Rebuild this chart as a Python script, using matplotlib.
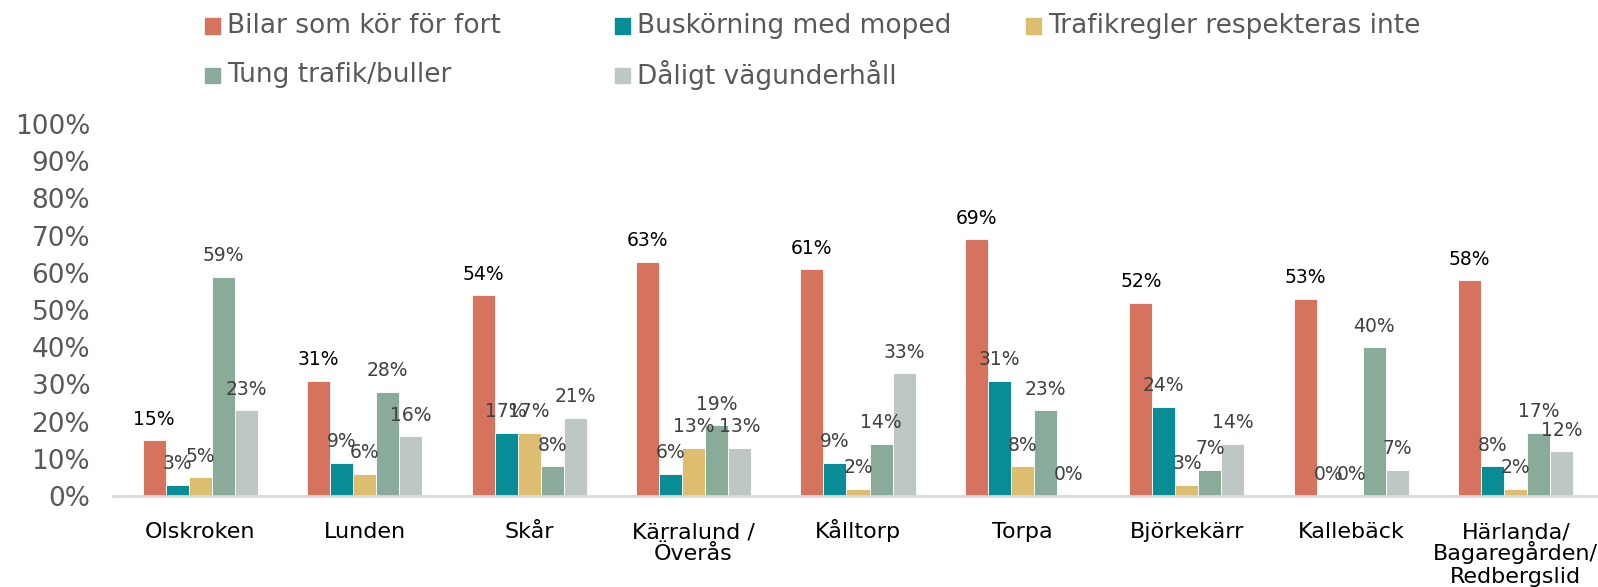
import numpy as np
import matplotlib
matplotlib.use("Agg")
import matplotlib.pyplot as plt
from matplotlib.patches import Rectangle

# data
categories = ["Olskroken", "Lunden", "Skår", "Kärralund /\nÖverås", "Kålltorp",
              "Torpa", "Björkekärr", "Kallebäck", "Härlanda/\nBagaregården/\nRedbergslid"]
series = ["Bilar som kör för fort", "Buskörning med moped", "Trafikregler respekteras inte",
          "Tung trafik/buller", "Dåligt vägunderhåll"]
fort = [15, 31, 54, 63, 61, 69, 52, 53, 58]
moped = [3, 9, 17, 6, 9, 31, 24, 0, 8]
regler = [5, 6, 17, 13, 2, 8, 3, 0, 2]
tung = [59, 28, 8, 19, 14, 23, 7, 40, 17]
vag = [23, 16, 21, 13, 33, 0, 14, 7, 12]
values = [fort, moped, regler, tung, vag]
colors = ["#D5735E", "#088D96", "#DDBE70", "#8AAB99", "#BFC7C5"]
yticks = np.arange(0, 101, 10)

W, H = 1598, 587
fig = plt.figure(figsize=(W/100, H/100), dpi=100)
ax = fig.add_axes([118/W, 1-496/H, 1480/W, 372/H])

x = np.arange(len(categories))
bw = 0.14
for k, vals in enumerate(values):
    pos = x + (k-2)*bw
    ax.bar(pos, vals, bw, color=colors[k], edgecolor="white", linewidth=0.6, zorder=2)
    lc = "#000000" if k == 0 else "#404040"
    for p, v in zip(pos, vals):
        ax.annotate("%d%%" % v, (p, v), xytext=(0, 21), textcoords="offset pixels",
                    ha="center", va="center", fontsize=13.5, color=lc)

ax.set_xlim(-0.5, len(categories)-0.5)
ax.set_ylim(0, 100)
ax.set_yticks(yticks)
ax.set_yticklabels(["%d%%" % t for t in yticks], fontsize=19, color="#595959")
ax.set_xticks(x)
ax.set_xticklabels([])
ax.tick_params(axis="both", length=0)
ax.tick_params(axis="y", pad=20)
# category labels, one line at a time so the first lines share a baseline
for xi, name in zip(x, categories):
    for i, line in enumerate(name.split("\n")):
        ax.annotate(line, (xi, 0), xytext=(0, -42 - 22.5*i), textcoords="offset pixels",
                    ha="center", va="baseline", fontsize=16, color="#000000",
                    annotation_clip=False)
for s in ["top", "right", "left"]:
    ax.spines[s].set_visible(False)
ax.spines["bottom"].set_color("#D9D9D9")
ax.spines["bottom"].set_linewidth(2)
ax.spines["bottom"].set_bounds(-0.53, len(categories)-0.5)
ax.spines["bottom"].set_zorder(3)

# legend drawn by hand
leg_pos = [(205, 26), (615, 26), (1026, 26), (205, 75), (615, 75)]
for (lx, ly), name, c in zip(leg_pos, series, colors):
    fig.patches.append(Rectangle((lx/W, 1-(ly+7.5)/H), 15/W, 15/H, color=c,
                                 transform=fig.transFigure, figure=fig))
    fig.text((lx+22)/W, 1-ly/H, name, fontsize=19, color="#595959", va="center")

fig.savefig("out.png", dpi=100)
